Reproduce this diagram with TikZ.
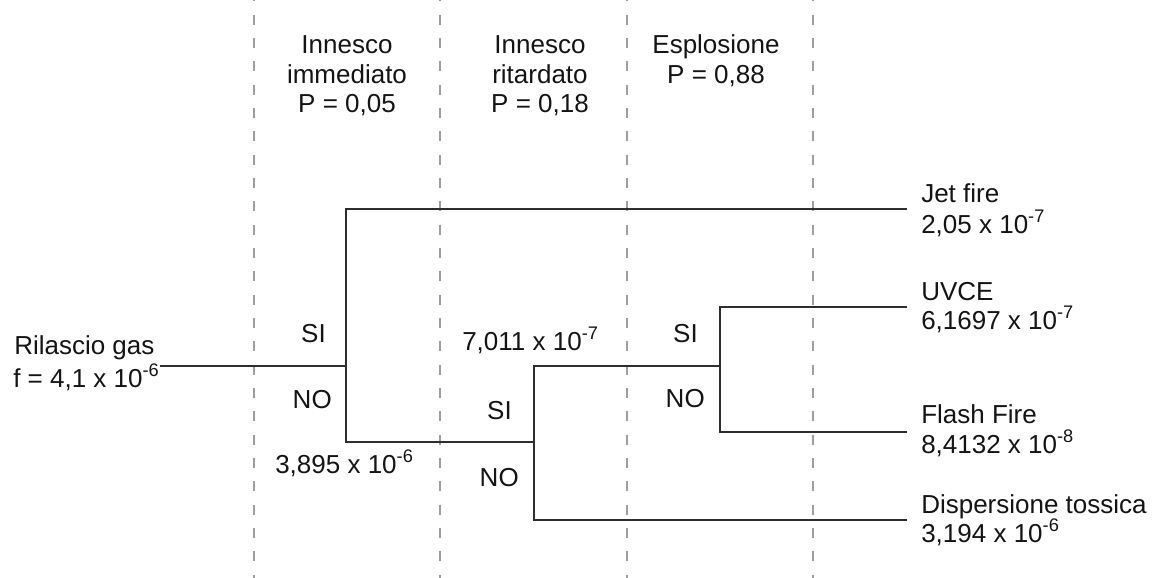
\documentclass[tikz,border=0pt]{standalone}
\usepackage{fontspec}
\setmainfont{Liberation Sans}
\begin{document}
\begin{tikzpicture}[x=0.75pt,y=-0.75pt,
  txt/.style={inner sep=0pt, text=black!92, font=\fontsize{19.5}{22}\selectfont},
  lbl/.style={txt, anchor=base west},
  lblr/.style={txt, anchor=base east},
  hdr/.style={txt, anchor=base},
  branch/.style={draw=black!82, line width=1.5pt},
  guide/.style={draw=black!38, line width=1.3pt, dash pattern=on 7.5pt off 10pt, dash phase=-11pt}]
\useasboundingbox (0,0) rectangle (1157,578);

% column separators
\foreach \x/\n in {254/a,440/b,627/c,813/d}{
  \coordinate (g\n t) at (\x,0);
  \coordinate (g\n b) at (\x,578);
  \draw[guide] (g\n t) -- (g\n b);
}

% column headers
\node[hdr] (h1a) at (347,53) {Innesco};
\node[hdr] (h1b) at (347,83) {immediato};
\node[hdr] (h1c) at (347,112) {P = 0,05};
\node[hdr] (h2a) at (540,53) {Innesco};
\node[hdr] (h2b) at (540,83) {ritardato};
\node[hdr] (h2c) at (540,112) {P = 0,18};
\node[hdr] (h3a) at (716,53) {Esplosione};
\node[hdr] (h3b) at (716,83) {P = 0,88};

% branch points
\coordinate (start) at (160,366);
\coordinate (n1) at (346,366);
\coordinate (n1u) at (346,209);
\coordinate (n1d) at (346,442);
\coordinate (n2) at (534,442);
\coordinate (n2u) at (534,366);
\coordinate (n2d) at (534,520);
\coordinate (n3) at (720,366);
\coordinate (n3u) at (720,307);
\coordinate (n3d) at (720,432);
\coordinate (eJet) at (907,209);
\coordinate (eUvce) at (907,307);
\coordinate (eFlash) at (907,432);
\coordinate (eDisp) at (907,520);

% tree
\draw[branch] (start) -- (n1);
\draw[branch] (eJet) -- (n1u) -- (n1d) -- (n2);
\draw[branch] (n3) -- (n2u) -- (n2d) -- (eDisp);
\draw[branch] (eUvce) -- (n3u) -- (n3d) -- (eFlash);

% initiating event
\node[lbl] (src1) at (14,354) {Rilascio gas};
\node[lbl] (src2) at (13,387) {f = 4,1 x 10\textsuperscript{-6}};

% branch labels
\node[lblr] (si1) at (326,342) {SI};
\node[lblr] (no1) at (332,408) {NO};
\node[lbl] (p1) at (275,473) {3,895 x 10\textsuperscript{-6}};
\node[lbl] (p2) at (462,350) {7,011 x 10\textsuperscript{-7}};
\node[lblr] (si2) at (512,419) {SI};
\node[lblr] (no2) at (519,486) {NO};
\node[lblr] (si3) at (698,342) {SI};
\node[lblr] (no3) at (705,407) {NO};

% outcomes
\node[lbl] (o1a) at (921,202) {Jet fire};
\node[lbl] (o1b) at (921,233) {2,05 x 10\textsuperscript{-7}};
\node[lbl] (o2a) at (921,300) {UVCE};
\node[lbl] (o2b) at (921,329) {6,1697 x 10\textsuperscript{-7}};
\node[lbl] (o3a) at (921,423) {Flash Fire};
\node[lbl] (o3b) at (921,453) {8,4132 x 10\textsuperscript{-8}};
\node[lbl] (o4a) at (921,513) {Dispersione tossica};
\node[lbl] (o4b) at (921,542) {3,194 x 10\textsuperscript{-6}};
\end{tikzpicture}
\end{document}
